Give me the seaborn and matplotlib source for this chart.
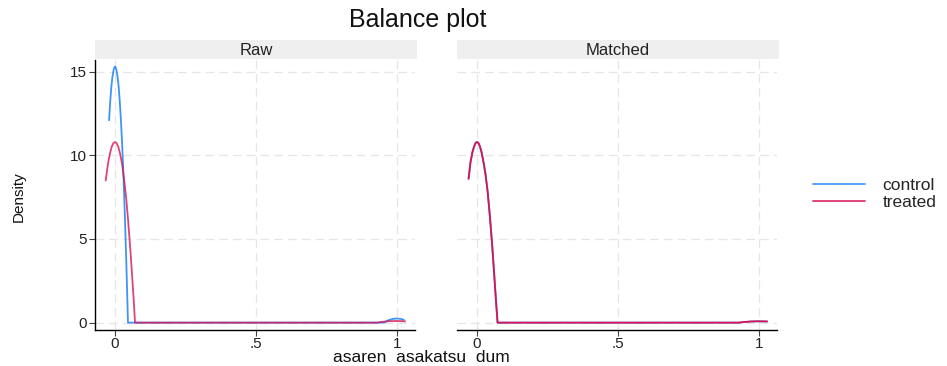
import matplotlib
matplotlib.use("Agg")
import matplotlib.pyplot as plt
import seaborn as sns
import pandas as pd
from matplotlib.lines import Line2D

# ---- data (kernel density curves) ----
panels = ["Raw", "Matched"]
groups = ["control", "treated"]

raw_control_x = [-0.021, -0.017, -0.013, -0.009, -0.005, -0.002, 0.000, 0.002, 0.005, 0.009,
                 0.013, 0.017, 0.021, 0.025, 0.030, 0.035, 0.040, 0.043, 0.046, 0.500,
                 0.954, 0.970, 0.985, 1.000, 1.015, 1.025]
raw_control_y = [12.1, 13.2, 14.1, 14.7, 15.1, 15.28, 15.3, 15.28, 15.1, 14.7,
                 14.1, 13.2, 12.1, 10.8, 8.8, 6.4, 3.7, 1.9, 0.0, 0.0,
                 0.0, 0.14, 0.22, 0.25, 0.22, 0.17]

raw_treated_x = [-0.033, -0.025, -0.018, -0.012, -0.006, 0.000, 0.006, 0.012, 0.018, 0.025,
                 0.032, 0.040, 0.048, 0.056, 0.062, 0.067, 0.071, 0.500, 0.929, 0.950,
                 0.975, 1.000, 1.030]
raw_treated_y = [8.5, 9.5, 10.1, 10.5, 10.72, 10.8, 10.72, 10.5, 10.1, 9.5,
                 8.6, 7.4, 5.8, 4.0, 2.5, 1.2, 0.0, 0.0, 0.0, 0.05,
                 0.088, 0.10, 0.08]

matched_control_x = [-0.030, -0.023, -0.016, -0.010, -0.005, 0.000, 0.005, 0.010, 0.016, 0.023,
                     0.030, 0.038, 0.046, 0.054, 0.061, 0.067, 0.073, 0.500, 0.930, 0.950,
                     0.975, 1.000, 1.030]
matched_control_y = [8.6, 9.6, 10.2, 10.55, 10.74, 10.8, 10.74, 10.55, 10.2, 9.6,
                     8.9, 7.8, 6.3, 4.6, 2.9, 1.4, 0.0, 0.0, 0.0, 0.04,
                     0.07, 0.08, 0.07]

matched_treated_x = matched_control_x
matched_treated_y = matched_control_y

legend_labels = ["control", "treated"]
x_ticks = [0, 0.5, 1]
x_tick_labels = ["0", ".5", "1"]
y_ticks = [0, 5, 10, 15]
y_tick_labels = ["0", "5", "10", "15"]

title = "Balance plot"
x_title = "asaren  asakatsu  dum"
y_title = "Density"

# ---- build tables ----
def frame(xs, ys, g):
    return pd.DataFrame({"x": xs, "density": ys, "group": g})

data = {
    "Raw": pd.concat([frame(raw_control_x, raw_control_y, "control"),
                      frame(raw_treated_x, raw_treated_y, "treated")], ignore_index=True),
    "Matched": pd.concat([frame(matched_control_x, matched_control_y, "control"),
                          frame(matched_treated_x, matched_treated_y, "treated")], ignore_index=True),
}

sns.set_theme(style="white")
plt.rcParams["font.family"] = ["Liberation Sans", "DejaVu Sans"]

W, H = 947, 366
fig = plt.figure(figsize=(W / 100, H / 100), dpi=100)

palette = {"control": "#2a8af5", "treated": "#d81457"}

def px_box(l, t, r, b):
    return [l / W, 1 - b / H, (r - l) / W, (b - t) / H]

axes_px = {"Raw": (95, 60, 415, 330), "Matched": (457, 60, 777, 330)}
xlim = (-0.071, 1.065)
ylim = (-0.44, 15.7)

for name in panels:
    l, t, r, b = axes_px[name]
    ax = fig.add_axes(px_box(l, t, r, b))
    df = data[name]
    sns.lineplot(data=df[df.group == "control"], x="x", y="density", color=palette["control"],
                 estimator=None, sort=False, lw=1.3, alpha=0.9, ax=ax)
    sns.lineplot(data=df[df.group == "treated"], x="x", y="density", color=palette["treated"],
                 estimator=None, sort=False, lw=1.3, alpha=0.8 if name == "Raw" else 1.0, ax=ax)
    ax.set_xlim(*xlim)
    ax.set_ylim(*ylim)
    ax.set_xticks(x_ticks)
    ax.set_xticklabels(x_tick_labels, fontsize=11)
    ax.set_yticks(y_ticks)
    ax.grid(True, color="#e6e6e6", linestyle=(0, (7, 4)), lw=0.9)
    ax.set_xlabel("")
    ax.set_ylabel("")
    for s in ["top", "right"]:
        ax.spines[s].set_visible(False)
    ax.spines["bottom"].set_color("black")
    ax.spines["bottom"].set_linewidth(1.0)
    ax.tick_params(axis="x", bottom=True, length=4, width=0.8, color="#444444",
                   pad=1, labelcolor="#222222")
    if name == "Raw":
        ax.spines["left"].set_color("black")
        ax.spines["left"].set_linewidth(1.0)
        ax.set_yticklabels(y_tick_labels, fontsize=11)
        ax.tick_params(axis="y", left=True, length=4, width=0.8, color="#444444",
                       pad=2, labelcolor="#222222")
    else:
        ax.spines["left"].set_visible(False)
        ax.tick_params(axis="y", left=False, labelleft=False)
    # strip
    sax = fig.add_axes(px_box(l, 40, r + 2, 59))
    sax.set_facecolor("#efefef")
    for s in sax.spines.values():
        s.set_visible(False)
    sax.set_xticks([])
    sax.set_yticks([])
    sax.text(0.5, 0.45, name, ha="center", va="center", fontsize=12, color="#222222",
             transform=sax.transAxes)

fig.text(418 / W, 1 - 20 / H, title, ha="center", va="center", fontsize=18, color="#111111")
fig.text(421 / W, 1 - 358 / H, x_title, ha="center", va="center", fontsize=12.5, color="#111111")
fig.text(19 / W, 1 - 197 / H, y_title, ha="center", va="center", rotation=90, fontsize=11,
         color="#111111", family=["Liberation Sans Narrow", "Liberation Sans", "DejaVu Sans"])

# legend
handles = [Line2D([], [], color=palette[g], lw=1.3, alpha=0.85) for g in groups]
fig.legend(handles, legend_labels, loc="center left", bbox_to_anchor=(813 / W, 1 - 194 / H),
           frameon=False, fontsize=12.5, handlelength=3.0, handletextpad=1.0,
           labelspacing=0.15, borderaxespad=0, borderpad=0)

fig.savefig("out.png", dpi=100)
